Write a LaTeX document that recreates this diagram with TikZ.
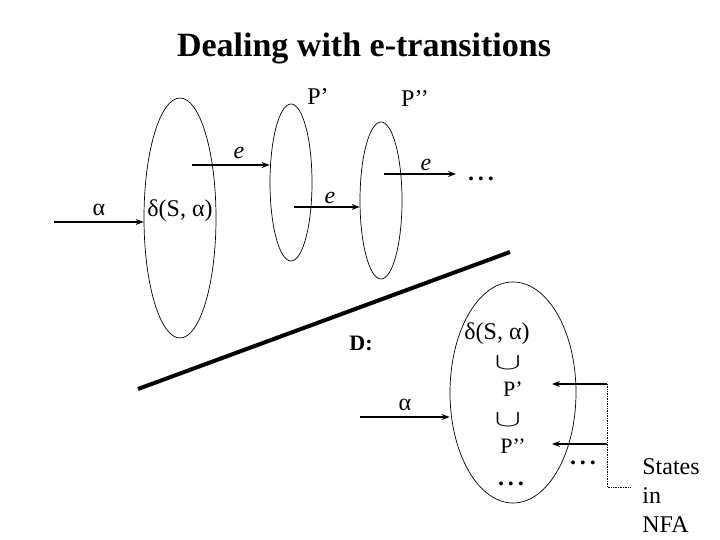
\documentclass[tikz,border=0pt]{standalone}
\usepackage{fontspec}
\setmainfont{Liberation Serif}
\usetikzlibrary{arrows.meta,shapes.geometric,positioning,calc}

\begin{document}
\begin{tikzpicture}[
    x=1pt, y=-1pt,
    >={Stealth[length=8pt,width=6pt]},
    set/.style={draw, ellipse, inner sep=0pt, line width=0.7pt},
    lab/.style={font=\fontsize{24}{28}\selectfont, inner sep=0pt, anchor=base},
    small/.style={font=\fontsize{22}{26}\selectfont, inner sep=0pt, anchor=base},
    elab/.style={font=\fontsize{24}{28}\selectfont\itshape, inner sep=0pt, anchor=base},
    union/.style={font=\fontsize{24}{28}\selectfont, inner sep=0pt},
    trans/.style={->, line width=1.6pt},
    line width=0.7pt]
  \useasboundingbox (0,0) rectangle (720,540);
  \node[inner sep=0pt, anchor=base, font=\bfseries\fontsize{34}{40}\selectfont] (title) at (364,57) {Dealing with e-transitions};

  % NFA side
  \node[set, minimum width=72pt, minimum height=240pt] (s0) at (180,218) {};
  \node[set, minimum width=42pt, minimum height=157pt] (s1) at (291,182.5) {};
  \node[set, minimum width=42pt, minimum height=157pt] (s2) at (381,200.5) {};
  \node[lab] (dsa) at (180,217) {δ(S, α)};
  \node[lab] (p1) at (318,105) {P’};
  \node[lab] (p2) at (415,107) {P’’};
  \coordinate (a0) at (54,222);
  \coordinate (e1) at (192,165);
  \coordinate (e2) at (294,207);
  \coordinate (e3) at (384,174);
  \coordinate (e3end) at (456,174);
  \draw[trans] (a0) -- node[lab, above=5pt] (la0) {α} (a0 -| s0.west);
  \draw[trans] (e1) -- (e1 -| s1.west);
  \draw[trans] (e2) -- (e2 -| s2.west);
  \draw[trans] (e3) -- (e3end);
  \node[elab] (le1) at (239,159) {e};
  \node[elab] (le2) at (330,204) {e};
  \node[elab] (le3) at (426,171) {e};
  \node[lab, font=\bfseries\fontsize{24}{28}\selectfont] (more) at (481,181) {.\,.\,.};

  % divider
  \coordinate (cut1) at (138,389);
  \coordinate (cut2) at (510,252);
  \draw[line width=4pt] (cut1) -- (cut2);

  % DFA side
  \node[set, minimum width=126pt, minimum height=221pt] (d0) at (513,392.5) {};
  \node[lab, font=\bfseries\fontsize{22}{26}\selectfont] (dlab) at (361,350) {D:};
  \node[lab] (dsa2) at (497,339) {δ(S, α)};
  \node[union] (cup1) at (508,363) {\scalebox{1.6}[0.95]{$\cup$}};
  \node[small] (q1) at (513,396) {P’};
  \node[union] (cup2) at (508,420) {\scalebox{1.6}[0.95]{$\cup$}};
  \node[small] (q2) at (513,453) {P’’};
  \node[lab, font=\bfseries\fontsize{24}{28}\selectfont] (dots1) at (511,485) {.\,.\,.};
  \node[lab, font=\bfseries\fontsize{24}{28}\selectfont] (dots2) at (583,464) {.\,.\,.};
  \coordinate (a1) at (360,417);
  \draw[trans] (a1) -- node[lab, above=5pt] (la1) {α} (a1 -| d0.west);
  \coordinate (n1) at (607,384);
  \coordinate (n2) at (607,444);
  \coordinate (t1) at (552,384);
  \coordinate (t2) at (552,444);
  \coordinate (n3) at (607,487);
  \coordinate (n4) at (631,487);
  \draw[trans] (n1) -- (t1);
  \draw[trans] (n2) -- (t2);
  \draw[densely dotted] (n1) -- (n3) -- (n4);
  \node[inner sep=0pt, anchor=north west, align=left, font=\fontsize{24}{29}\selectfont] (nfa) at (642,458) {States\\in\\NFA};
\end{tikzpicture}
\end{document}
